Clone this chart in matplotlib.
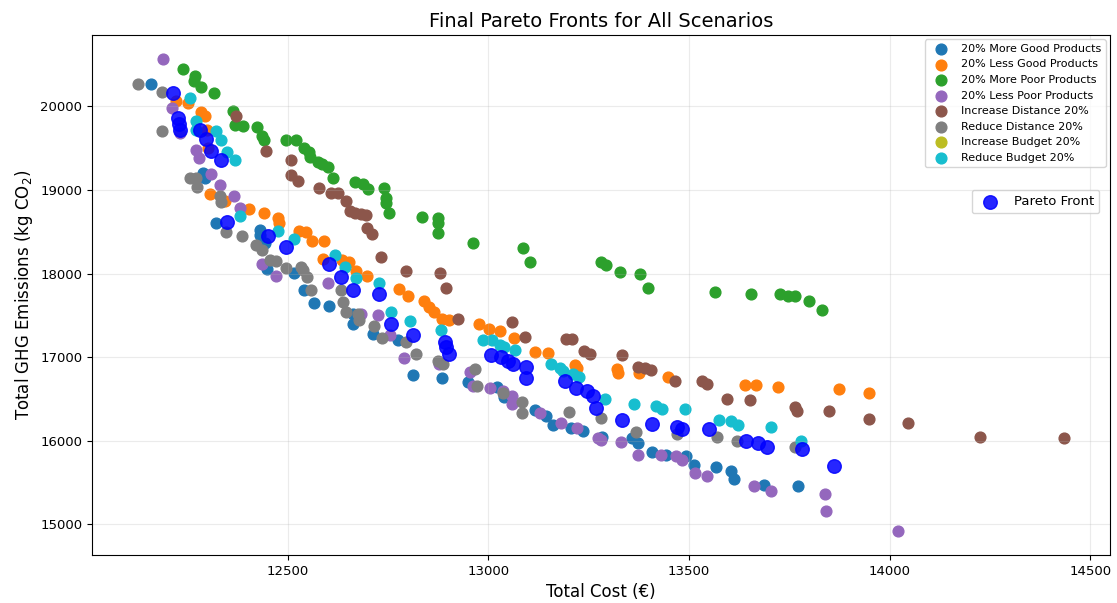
import matplotlib
matplotlib.use('Agg')
import matplotlib.pyplot as plt

# Scenario results (total cost in EUR, total GHG in kg CO2)
more_good_cost = [12159, 12289, 12294, 12321, 12430, 12432, 12443, 12449, 12517, 12540,
                  12567, 12604, 12664, 12664, 12714, 12774, 12812, 12886, 12949, 13023,
                  13040, 13117, 13144, 13162, 13206, 13235, 13284, 13359, 13374, 13409,
                  13444, 13493, 13512, 13567, 13605, 13612, 13687, 13772]
more_good_ghg = [20264, 19203, 19143, 18602, 18528, 18462, 18362, 18061, 18008, 17809,
                 17648, 17608, 17520, 17392, 17272, 17208, 16791, 16751, 16698, 16647,
                 16518, 16367, 16292, 16190, 16157, 16118, 16046, 16030, 15977, 15869,
                 15829, 15817, 15709, 15689, 15633, 15547, 15469, 15457]

less_good_cost = [12223, 12252, 12285, 12294, 12299, 12302, 12306, 12343, 12404, 12441,
                  12476, 12478, 12529, 12545, 12561, 12590, 12588, 12636, 12654, 12670,
                  12697, 12777, 12799, 12841, 12853, 12866, 12885, 12903, 12976, 13002,
                  13029, 13065, 13116, 13150, 13216, 13220, 13322, 13324, 13376, 13449,
                  13639, 13666, 13722, 13874, 13950]
less_good_ghg = [20064, 20044, 19931, 19883, 19724, 19504, 18954, 18868, 18770, 18722,
                 18662, 18602, 18506, 18501, 18386, 18386, 18177, 18165, 18141, 18026,
                 17971, 17821, 17728, 17672, 17600, 17540, 17460, 17448, 17400, 17335,
                 17311, 17232, 17065, 17052, 16909, 16871, 16859, 16813, 16813, 16758,
                 16667, 16667, 16642, 16619, 16566]

more_poor_cost = [12240, 12269, 12266, 12285, 12317, 12364, 12368, 12389, 12424, 12437,
                  12440, 12495, 12522, 12540, 12553, 12556, 12575, 12586, 12600, 12613,
                  12669, 12687, 12700, 12741, 12744, 12744, 12752, 12835, 12876, 12876,
                  12876, 12963, 13087, 13104, 13280, 13294, 13328, 13379, 13399, 13565,
                  13654, 13728, 13747, 13764, 13799, 13832]
more_poor_ghg = [20445, 20364, 20300, 20237, 20156, 19944, 19784, 19763, 19756, 19651,
                 19603, 19603, 19595, 19504, 19451, 19395, 19330, 19315, 19275, 19150,
                 19102, 19071, 19011, 19023, 18903, 18850, 18730, 18674, 18662, 18609,
                 18489, 18362, 18309, 18145, 18137, 18105, 18025, 17993, 17825, 17780,
                 17756, 17752, 17737, 17728, 17672, 17568]

less_poor_cost = [12190, 12213, 12233, 12271, 12279, 12308, 12331, 12367, 12382, 12435,
                  12472, 12600, 12683, 12726, 12754, 12791, 12878, 12954, 12963, 13004,
                  13037, 13059, 13060, 13129, 13181, 13222, 13274, 13280, 13330, 13374,
                  13430, 13468, 13482, 13515, 13546, 13662, 13705, 13840, 13842, 14022]
less_poor_ghg = [20573, 19984, 19684, 19475, 19383, 19195, 19062, 18933, 18782, 18113,
                 17972, 17888, 17520, 17500, 17260, 16992, 16919, 16819, 16659, 16631,
                 16590, 16538, 16446, 16332, 16218, 16150, 16037, 16006, 15989, 15829,
                 15829, 15817, 15772, 15617, 15583, 15457, 15397, 15369, 15156, 14916]

inc_dist_cost = [12372, 12447, 12509, 12509, 12525, 12578, 12609, 12625, 12646, 12656,
                 12669, 12684, 12696, 12698, 12711, 12733, 12794, 12881, 12895, 12925,
                 13060, 13091, 13194, 13208, 13238, 13253, 13333, 13373, 13391, 13406,
                 13465, 13532, 13546, 13595, 13653, 13764, 13769, 13848, 13948, 14047,
                 14226, 14434]
inc_dist_ghg = [19883, 19463, 19355, 19177, 19114, 19026, 18969, 18963, 18867, 18750,
                18722, 18712, 18702, 18552, 18474, 18201, 18032, 18005, 17833, 17452,
                17424, 17236, 17220, 17212, 17079, 17035, 17029, 16879, 16871, 16847,
                16719, 16710, 16683, 16502, 16493, 16403, 16362, 16358, 16262, 16218,
                16046, 16037]

red_dist_cost = [12128, 12186, 12188, 12256, 12271, 12274, 12332, 12333, 12347, 12386,
                 12422, 12437, 12457, 12472, 12495, 12534, 12538, 12548, 12559, 12634,
                 12639, 12646, 12675, 12679, 12716, 12736, 12795, 12820, 12874, 12888,
                 12968, 12973, 13036, 13084, 13084, 13201, 13280, 13369, 13471, 13570,
                 13620, 13765]
red_dist_ghg = [20264, 20172, 19703, 19143, 19143, 19035, 18930, 18862, 18501, 18456,
                18341, 18281, 18169, 18153, 18073, 18080, 18041, 17960, 17809, 17800,
                17660, 17540, 17512, 17440, 17368, 17230, 17179, 17040, 16959, 16919,
                16859, 16659, 16566, 16458, 16338, 16350, 16278, 16106, 16079, 16046,
                15994, 15925]

# no visible points for this scenario in the chart
inc_budget_cost = []
inc_budget_ghg = []

red_budget_cost = [12258, 12271, 12271, 12321, 12335, 12348, 12370, 12382, 12477, 12515,
                   12617, 12644, 12670, 12728, 12758, 12805, 12882, 12988, 13009, 13029,
                   13040, 13067, 13156, 13180, 13187, 13211, 13226, 13291, 13363, 13417,
                   13432, 13490, 13576, 13604, 13623, 13705, 13779]
red_budget_ghg = [20105, 19823, 19715, 19703, 19603, 19451, 19363, 18686, 18512, 18413,
                  18221, 18077, 17945, 17891, 17546, 17431, 17320, 17200, 17200, 17143,
                  17119, 17083, 16915, 16875, 16831, 16799, 16758, 16505, 16446, 16418,
                  16379, 16382, 16250, 16238, 16190, 16162, 15994]

pareto_cost = [12215, 12227, 12230, 12233, 12281, 12296, 12310, 12335, 12350, 12451,
               12497, 12603, 12634, 12664, 12728, 12758, 12812, 12893, 12895, 12903,
               13007, 13032, 13049, 13061, 13094, 13094, 13192, 13219, 13246, 13262,
               13268, 13333, 13409, 13471, 13483, 13550, 13642, 13673, 13695, 13782,
               13861]
pareto_ghg = [20165, 19864, 19796, 19724, 19724, 19612, 19463, 19363, 18621, 18446,
              18321, 18117, 17960, 17800, 17761, 17392, 17260, 17179, 17119, 17040,
              17025, 17007, 16950, 16919, 16885, 16755, 16719, 16629, 16590, 16532,
              16391, 16254, 16206, 16166, 16138, 16138, 15998, 15977, 15925, 15898,
              15703]

scenarios = [
    ("20% More Good Products", more_good_cost, more_good_ghg, "tab:blue"),
    ("20% Less Good Products", less_good_cost, less_good_ghg, "tab:orange"),
    ("20% More Poor Products", more_poor_cost, more_poor_ghg, "tab:green"),
    ("20% Less Poor Products", less_poor_cost, less_poor_ghg, "tab:purple"),
    ("Increase Distance 20%", inc_dist_cost, inc_dist_ghg, "tab:brown"),
    ("Reduce Distance 20%", red_dist_cost, red_dist_ghg, "tab:gray"),
    ("Increase Budget 20%", inc_budget_cost, inc_budget_ghg, "tab:olive"),
    ("Reduce Budget 20%", red_budget_cost, red_budget_ghg, "tab:cyan"),
]

fig = plt.figure(figsize=(11.17, 6.03), dpi=100)
ax = fig.add_axes([0.0824, 0.0796, 0.9113, 0.8624])

handles = []
for name, xs, ys, col in scenarios:
    h = ax.scatter(xs, ys, s=60, color=col, label=name)
    handles.append(h)

pf = ax.scatter(pareto_cost, pareto_ghg, s=95, color='blue', alpha=0.85,
                label='Pareto Front', zorder=3)

ax.set_title('Final Pareto Fronts for All Scenarios', fontsize=14)
ax.set_xlabel('Total Cost (€)', fontsize=12)
ax.set_ylabel('Total GHG Emissions (kg CO$_2$)', fontsize=12)
ax.tick_params(labelsize=9.5)
ax.grid(True, alpha=0.25)

leg1 = ax.legend(handles=handles, loc='upper right', fontsize=8,
                 borderaxespad=0.4)
ax.add_artist(leg1)
ax.legend(handles=[pf], loc='upper right', bbox_to_anchor=(0.996, 0.715),
          fontsize=9.5)

fig.savefig('out.png', dpi=100)
plt.close(fig)
